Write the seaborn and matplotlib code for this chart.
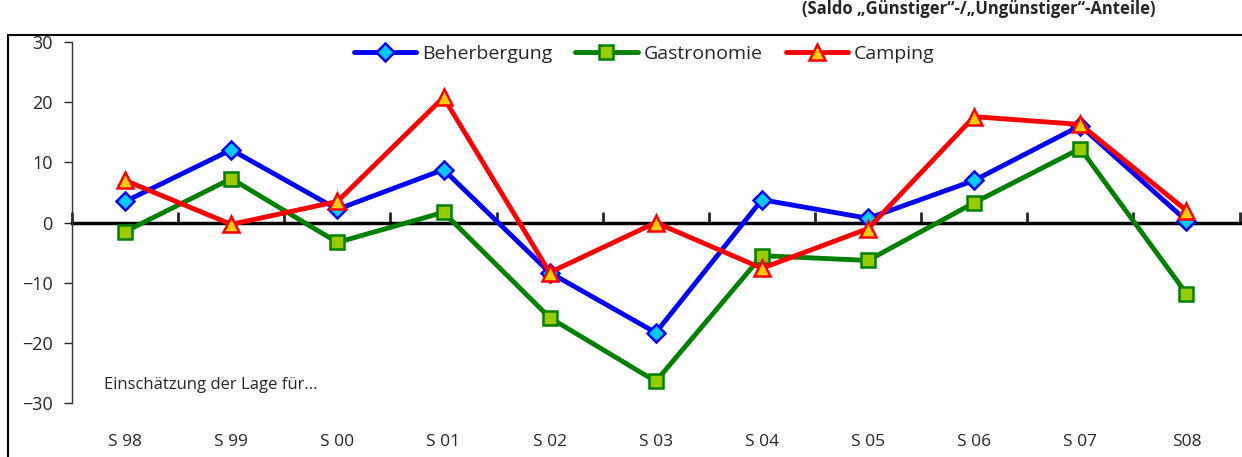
import pandas as pd
import matplotlib.pyplot as plt
import seaborn as sns
import numpy as np
from matplotlib.lines import Line2D

# season labels on the x axis
seasons = ["S 98", "S 99", "S 00", "S 01", "S 02", "S 03", "S 04", "S 05", "S 06", "S 07", "S08"]

# saldo values
beherbergung = [3.5, 12.1, 2.2, 8.8, -8.3, -18.3, 3.8, 0.7, 7.0, 16.1, 0.3]
gastronomie = [-1.5, 7.3, -3.3, 1.7, -15.8, -26.4, -5.5, -6.3, 3.3, 12.3, -11.8]
camping = [7.0, -0.3, 3.5, 20.8, -8.3, 0.0, -7.6, -1.0, 17.6, 16.3, 2.0]

sns.set_style("white")
plt.rcParams['font.family'] = ['Open Sans', 'DejaVu Sans']

fig = plt.figure(figsize=(12.42, 4.57), dpi=100)
ax = fig.add_axes([0.058, 0.118, 0.940, 0.790])

pos = np.arange(len(seasons))
series = [
    ("Beherbergung", beherbergung, "#0000FF", "D", "#00CCFF", 9),
    ("Gastronomie", gastronomie, "#008000", "s", "#99CC00", 10),
    ("Camping", camping, "#FF0000", "^", "#FFCC00", 11),
]
for name, vals, col, mk, face, ms in series:
    df = pd.DataFrame({"x": pos, "y": vals})
    sns.lineplot(data=df, x="x", y="y", ax=ax, color=col, lw=3.5, marker=mk,
                 markersize=ms, markerfacecolor=face, markeredgecolor=col,
                 markeredgewidth=1.8, label=name)

ax.set_xlim(-0.5, len(seasons) - 0.5)
ax.set_ylim(-30, 30)
ax.set_yticks([-30, -20, -10, 0, 10, 20, 30])
ax.set_xticks(pos)
ax.set_xticklabels(seasons)
ax.set_xlabel("")
ax.set_ylabel("")
ax.tick_params(axis="x", length=0, pad=22, labelsize=12.5)
ax.tick_params(axis="y", direction="out", length=6, width=1, left=True, labelsize=13, pad=8)
for s in ["top", "right", "bottom"]:
    ax.spines[s].set_visible(False)
ax.spines["left"].set_color("#333333")
ax.spines["left"].set_linewidth(1)

# zero line with category separator ticks
zero = ax.secondary_xaxis(0.5)
zero.set_xticks(np.arange(-0.5, len(seasons), 1))
zero.set_xticklabels([])
zero.tick_params(direction="out", length=8, width=2)
for sp in zero.spines.values():
    sp.set_linewidth(2.5)
    sp.set_color("black")

ax.text(0.027, 0.04, "Einschätzung der Lage für...", transform=ax.transAxes, fontsize=12)

leg = ax.legend(loc="upper center", bbox_to_anchor=(0.49, 1.04), ncol=3, frameon=False,
                fontsize=14, handlelength=3.2, columnspacing=1.2, handletextpad=0.3)

# outer frame and heading
fig.add_artist(Line2D([0.0064, 1.0], [0.923, 0.923], color="black", lw=1.5))
fig.add_artist(Line2D([0.0064, 0.0064], [0.0, 0.923], color="black", lw=1.5))
fig.text(0.93, 0.999, "(Saldo „Günstiger“-/„Ungünstiger“-Anteile)", ha="right", va="top",
         fontsize=12, fontweight="bold")

plt.savefig("out.png", dpi=100)
